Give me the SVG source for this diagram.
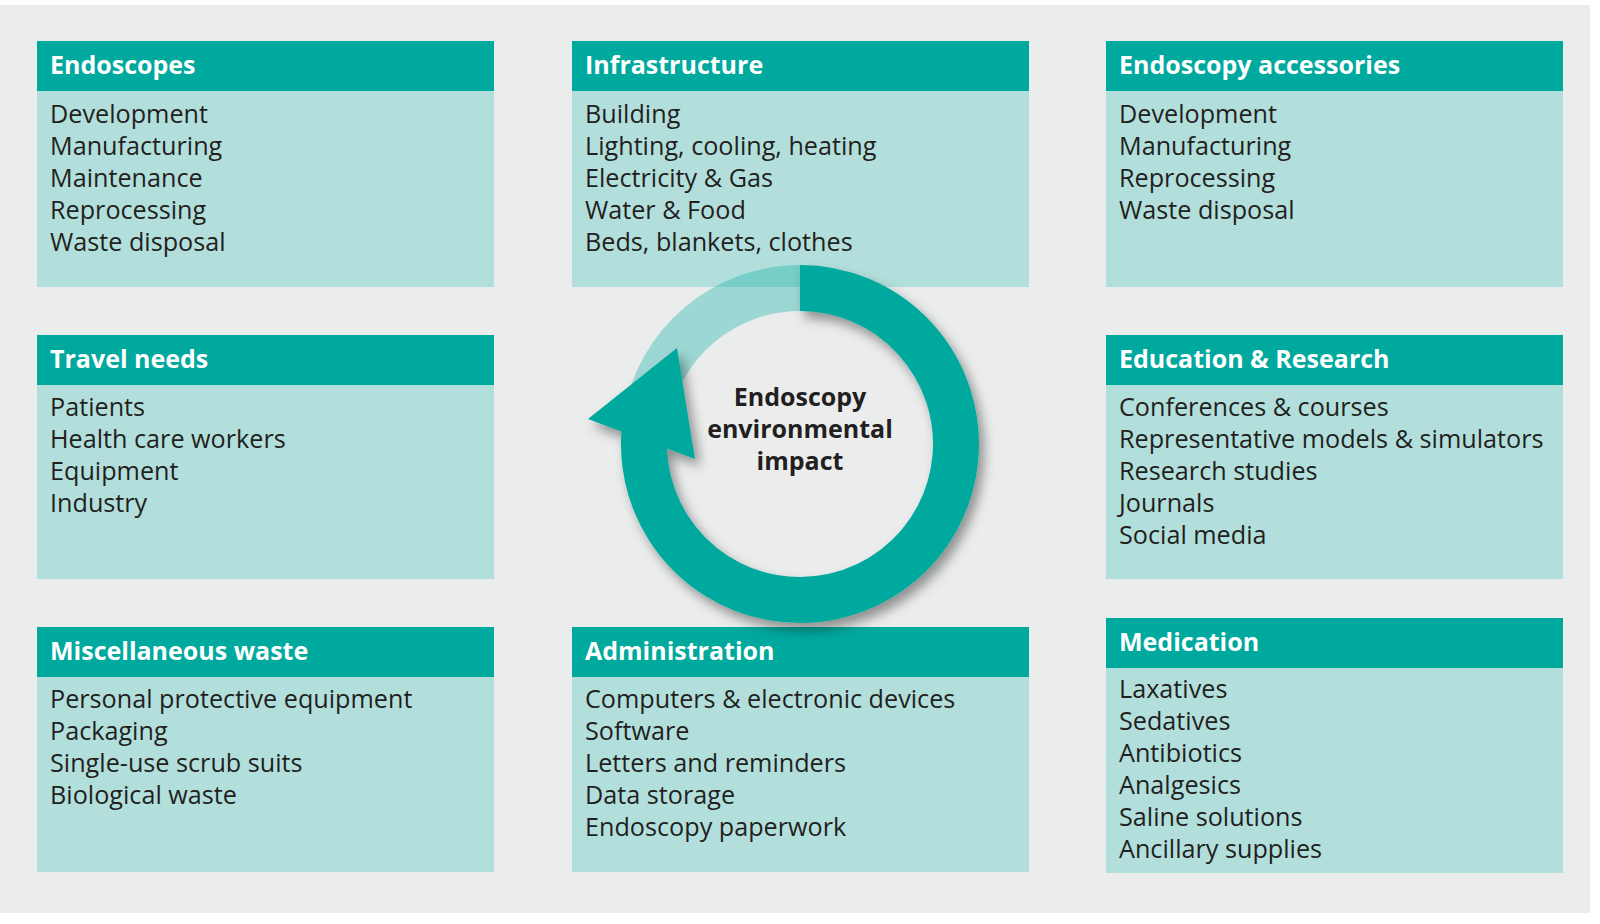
<svg xmlns="http://www.w3.org/2000/svg" width="1600" height="924" viewBox="0 0 1600 924">
<defs>
<style>
.hd{fill:#00a99d}
.bd{fill:#b2dfdc}
.ht{font-family:"Open Sans","Noto Sans",sans-serif;font-weight:700;font-size:25px;fill:#ffffff}
.bt{font-family:"Open Sans","Noto Sans",sans-serif;font-size:25.2px;fill:#231f20}
.ct{font-family:"Open Sans","Noto Sans",sans-serif;font-weight:700;font-size:25px;fill:#231f20;text-anchor:middle}
</style>
<filter id="sh" x="-20%" y="-20%" width="150%" height="150%">
<feDropShadow dx="5" dy="7" stdDeviation="6" flood-color="#000" flood-opacity="0.4"/>
</filter>
</defs>
<rect x="0" y="0" width="1600" height="924" fill="#ffffff"/>
<rect x="0" y="5" width="1590" height="908" fill="#ebeded"/>

<g id="endoscopes">
<rect class="bd" x="37" y="41" width="457" height="246"/>
<rect class="hd" x="37" y="41" width="457" height="50"/>
<text class="ht" x="50" y="74">Endoscopes</text>
<text class="bt" x="50" y="123">Development</text>
<text class="bt" x="50" y="155">Manufacturing</text>
<text class="bt" x="50" y="187">Maintenance</text>
<text class="bt" x="50" y="219">Reprocessing</text>
<text class="bt" x="50" y="251">Waste disposal</text>
</g>

<g id="infrastructure">
<rect class="bd" x="572" y="41" width="457" height="246"/>
<rect class="hd" x="572" y="41" width="457" height="50"/>
<text class="ht" x="585" y="74">Infrastructure</text>
<text class="bt" x="585" y="123">Building</text>
<text class="bt" x="585" y="155">Lighting, cooling, heating</text>
<text class="bt" x="585" y="187">Electricity &amp; Gas</text>
<text class="bt" x="585" y="219">Water &amp; Food</text>
<text class="bt" x="585" y="251">Beds, blankets, clothes</text>
</g>

<g id="accessories">
<rect class="bd" x="1106" y="41" width="457" height="246"/>
<rect class="hd" x="1106" y="41" width="457" height="50"/>
<text class="ht" x="1119" y="74">Endoscopy accessories</text>
<text class="bt" x="1119" y="123">Development</text>
<text class="bt" x="1119" y="155">Manufacturing</text>
<text class="bt" x="1119" y="187">Reprocessing</text>
<text class="bt" x="1119" y="219">Waste disposal</text>
</g>

<g id="travel">
<rect class="bd" x="37" y="335" width="457" height="244"/>
<rect class="hd" x="37" y="335" width="457" height="50"/>
<text class="ht" x="50" y="368">Travel needs</text>
<text class="bt" x="50" y="416">Patients</text>
<text class="bt" x="50" y="448">Health care workers</text>
<text class="bt" x="50" y="480">Equipment</text>
<text class="bt" x="50" y="512">Industry</text>
</g>

<g id="education">
<rect class="bd" x="1106" y="335" width="457" height="244"/>
<rect class="hd" x="1106" y="335" width="457" height="50"/>
<text class="ht" x="1119" y="368">Education &amp; Research</text>
<text class="bt" x="1119" y="416">Conferences &amp; courses</text>
<text class="bt" x="1119" y="448">Representative models &amp; simulators</text>
<text class="bt" x="1119" y="480">Research studies</text>
<text class="bt" x="1119" y="512">Journals</text>
<text class="bt" x="1119" y="544">Social media</text>
</g>

<g id="misc-waste">
<rect class="bd" x="37" y="627" width="457" height="245"/>
<rect class="hd" x="37" y="627" width="457" height="50"/>
<text class="ht" x="50" y="660">Miscellaneous waste</text>
<text class="bt" x="50" y="708">Personal protective equipment</text>
<text class="bt" x="50" y="740">Packaging</text>
<text class="bt" x="50" y="772">Single-use scrub suits</text>
<text class="bt" x="50" y="804">Biological waste</text>
</g>

<g id="administration">
<rect class="bd" x="572" y="627" width="457" height="245"/>
<rect class="hd" x="572" y="627" width="457" height="50"/>
<text class="ht" x="585" y="660">Administration</text>
<text class="bt" x="585" y="708">Computers &amp; electronic devices</text>
<text class="bt" x="585" y="740">Software</text>
<text class="bt" x="585" y="772">Letters and reminders</text>
<text class="bt" x="585" y="804">Data storage</text>
<text class="bt" x="585" y="836">Endoscopy paperwork</text>
</g>

<g id="medication">
<rect class="bd" x="1106" y="618" width="457" height="255"/>
<rect class="hd" x="1106" y="618" width="457" height="50"/>
<text class="ht" x="1119" y="651">Medication</text>
<text class="bt" x="1119" y="698">Laxatives</text>
<text class="bt" x="1119" y="730">Sedatives</text>
<text class="bt" x="1119" y="762">Antibiotics</text>
<text class="bt" x="1119" y="794">Analgesics</text>
<text class="bt" x="1119" y="826">Saline solutions</text>
<text class="bt" x="1119" y="858">Ancillary supplies</text>
</g>

<g id="connectors">
<path d="M 646.4 416.9 A 156 156 0 0 1 800 288" fill="none" stroke="#00a99d" stroke-opacity="0.33" stroke-width="46"/>
<g filter="url(#sh)">
<path d="M 800 288 A 156 156 0 1 1 649.3 403.6" fill="none" stroke="#00a99d" stroke-width="46"/>
<polygon points="588,419 677,348 695,459" fill="#00a99d"/>
</g>
</g>

<g id="center">
<text class="ct" x="800" y="406">Endoscopy</text>
<text class="ct" x="800" y="438">environmental</text>
<text class="ct" x="800" y="470">impact</text>
</g>
</svg>
